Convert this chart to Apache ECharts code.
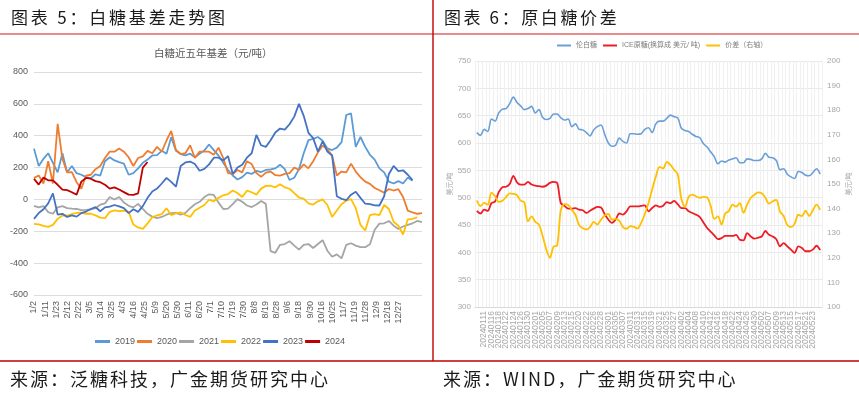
<!DOCTYPE html>
<html><head><meta charset="utf-8">
<script src="https://cdn.jsdelivr.net/npm/echarts@6/dist/echarts.min.js"></script>
<style>
html,body{margin:0;padding:0;background:#fff;}
#wrap{position:relative;width:859px;height:395px;overflow:hidden;background:#fff;}
#chart{position:absolute;left:0;top:0;width:859px;height:395px;}
.hd{position:absolute;font-family:"Noto Sans CJK SC",sans-serif;color:#1a1a1a;white-space:nowrap;line-height:1;z-index:5;}
</style></head><body>
<div id="wrap">
<div id="chart"></div>
<div class="hd" style="left:11px;top:8px;font-size:17px;letter-spacing:2.8px;">图表 5：白糖基差走势图</div>
<div class="hd" style="left:444px;top:8px;font-size:17px;letter-spacing:2.6px;">图表 6：原白糖价差</div>
<div class="hd" style="left:10px;top:369px;font-size:18px;letter-spacing:2px;">来源：泛糖科技，广金期货研究中心</div>
<div class="hd" style="left:443px;top:369px;font-size:18px;letter-spacing:2px;">来源：WIND，广金期货研究中心</div>
</div>
<script>
// ---------- Left chart: 白糖近五年基差 (元/吨) ----------
const leftDateLabels = ['1/2','1/11','1/23','2/12','2/22','3/5','3/14','3/25','4/3','4/16','4/25','5/9','5/20','5/30','6/11','6/20','7/1','7/10','7/19','7/30','8/8','8/19','8/28','9/6','9/18','9/30','10/16','10/25','11/7','11/19','11/28','12/9','12/18','12/27'];
const LABEL_EVERY = 7;   // one date label every 7 trading days
const DAY_STEP = 3;      // values below are read every 3rd trading day
const TOTAL_DAYS = 246;
const years = ['2019','2020','2021','2022','2023','2024'];
const basis2019 = [319,210,255,290,230,170,290,171,210,165,155,140,132,158,150,240,265,245,234,225,155,165,195,230,250,276,278,305,287,390,305,285,276,287,265,287,308,345,310,
  275,230,185,150,125,140,168,160,180,172,185,188,195,218,190,122,136,190,290,372,380,392,368,320,310,325,360,530,540,330,392,330,280,250,195,170,112,100,115,100,138,118];
const basis2020 = [135,150,100,240,100,475,255,170,171,108,68,150,155,190,210,260,300,300,320,300,265,210,260,270,305,290,330,300,370,430,310,285,290,340,260,300,300,300,280,
  325,260,165,160,185,170,240,222,165,142,168,175,152,150,160,165,200,185,220,195,240,295,338,315,275,150,175,170,225,175,139,112,98,72,58,42,65,56,64,15,-70,-82,-90,-86];
const basis2021 = [-40,-50,-42,-80,-90,-50,-42,-55,-58,-60,-67,-66,-62,-55,-33,-25,15,0,15,-20,-40,-50,-28,-60,-90,-108,-118,-110,-96,-86,
  -84,-95,-85,-55,-30,-15,15,32,28,-20,-60,-58,-30,2,-15,-38,-48,-32,-10,-28,-325,-335,-285,-280,-262,-290,-315,-285,-280,-305,
  -280,-256,-322,-360,-345,-370,-285,-275,-290,-300,-300,-282,-190,-152,-150,-135,-165,-185,-170,-160,-150,-135,-143];
const basis2022 = [-154,-156,-166,-172,-160,-122,-101,-101,-92,-84,-83,-90,-90,-100,-114,-118,-78,-69,-74,-70,-78,-158,-176,-185,-150,-112,-100,-92,-55,-98,
  -88,-82,-98,-110,-70,-52,-35,-2,-12,10,26,34,56,40,15,55,45,30,68,85,86,76,96,76,67,40,12,5,-25,-32,
  -12,0,-35,-110,-70,-30,-8,2,-55,-160,-195,-98,-92,-98,-35,-60,-140,-165,-220,-125,-122,-112];
const basis2023 = [-122,-85,-62,-25,38,-95,-90,-110,-100,-108,-86,-76,-60,-48,-74,-50,-45,-35,-44,-55,-86,-62,-78,-42,10,50,68,100,135,110,
  80,210,232,238,222,180,192,220,262,262,245,272,160,200,218,262,290,405,340,330,371,420,445,438,472,520,600,525,418,385,
  300,365,300,276,20,4,-5,30,48,10,-27,-30,-37,-38,20,160,210,178,183,155,122];
const basis2024 = [129,93,137,120,120,92,62,58,45,30,112,135,130,115,108,92,68,76,62,46,30,28,38,200,235];

// ---------- Right chart: 原白糖价差 ----------
const rightDates = ['20240109','20240110','20240111','20240112','20240116','20240117','20240118','20240119','20240122','20240123','20240124','20240125','20240126','20240129','20240130','20240131',
  '20240201','20240202','20240205','20240206','20240207','20240208','20240209','20240212','20240213','20240214','20240215','20240216','20240220','20240221','20240222','20240223','20240226','20240227','20240228','20240229',
  '20240301','20240304','20240305','20240306','20240307','20240308','20240311','20240312','20240313','20240314','20240315','20240318','20240319','20240320','20240321','20240322','20240325','20240326','20240327','20240328',
  '20240402','20240403','20240404','20240405','20240408','20240409','20240410','20240411','20240412','20240415','20240416','20240417','20240418','20240419','20240422','20240423','20240424','20240425','20240426','20240429','20240430',
  '20240501','20240502','20240503','20240507','20240508','20240509','20240510','20240513','20240514','20240515','20240516','20240517','20240520','20240521','20240522','20240523','20240524','20240528'];
const londonWhite = [619,614,625,621,644,640,655,662,663,672,684,674,668,661,663,667,655,661,647,643,645,653,653,646,642,644,630,635,625,624,619,613,624,630,633,616,600,594,596,609,603,600,617,617,616,617,625,
  628,619,635,640,640,645,651,648,646,627,623,621,616,612,610,599,593,584,575,562,567,565,569,571,573,564,564,571,570,568,568,571,581,574,573,568,551,553,543,538,535,548,546,541,540,546,553,543];
const iceRaw = [476,471,478,476,490,493,510,519,520,525,540,528,524,524,529,524,522,521,520,522,527,529,527,490,485,480,480,481,478,477,472,476,480,483,482,470,460,454,460,471,469,475,484,484,484,485,486,
  475,481,486,483,485,492,490,494,488,481,481,475,472,469,465,455,445,438,431,424,426,430,430,430,432,423,422,435,429,425,427,429,439,432,429,424,411,417,411,405,399,411,408,402,402,405,412,404];
const spread = [143.3,141,142.3,141.6,146.5,145,142.7,143.2,144.7,146.2,146,145.5,143.2,142.6,134.8,136.8,134.6,133.5,129,123.5,120,124.5,125,139.5,141.8,141.5,139.5,137.5,133.3,132,131.5,132.5,134.6,133.5,135.5,137.2,137.8,135.5,135.8,135,132.5,131.8,132.9,132.6,131.9,134.2,137.8,
  142.3,147.8,153,157,156.3,159,157.8,155.8,154,144,140.7,144.8,145.7,145,144.4,144.8,144.6,141.3,135.8,136.8,133.5,138,139,141.6,140.8,142.2,138.3,141.6,144.4,145.6,146.6,146.2,144.4,142,143,143.5,138.8,137,133.3,132.5,133.8,137.5,137,139.2,137,139.3,141.6,139.5];
const rightNames = ['伦白糖','ICE原糖(换算成 美元/ 吨)','价差（右轴）'];

const FONT = 'Arial, "Liberation Sans", "Noto Sans CJK SC", sans-serif';
const leftColors = ['#5B9BD5','#ED7D31','#A5A5A5','#FFC000','#4472C4','#C00000'];
const leftValues = [basis2019, basis2020, basis2021, basis2022, basis2023, basis2024];

const leftSeries = years.map((name, j) => ({
  name, type: 'line', xAxisIndex: 0, yAxisIndex: 0, symbol: 'none', showSymbol: false,
  lineStyle: {width: 1.8, color: leftColors[j]}, itemStyle: {color: leftColors[j]},
  data: leftValues[j].map((v, i) => [i * DAY_STEP, v])
}));
const rightSeries = [
  {name: rightNames[0], type: 'line', xAxisIndex: 1, yAxisIndex: 1, symbol: 'none', smooth: 0.3,
   lineStyle: {width: 1.6, color: '#6A9FD8'}, itemStyle: {color: '#6A9FD8'}, data: londonWhite},
  {name: rightNames[1], type: 'line', xAxisIndex: 1, yAxisIndex: 1, symbol: 'none', smooth: 0.3,
   lineStyle: {width: 1.8, color: '#EE1C25'}, itemStyle: {color: '#EE1C25'}, data: iceRaw},
  {name: rightNames[2], type: 'line', xAxisIndex: 1, yAxisIndex: 2, symbol: 'none', smooth: 0.3,
   lineStyle: {width: 1.8, color: '#FFC000'}, itemStyle: {color: '#FFC000'}, data: spread}
];

const chart = echarts.init(document.getElementById('chart'));
chart.setOption({
  animation: false,
  textStyle: {fontFamily: FONT},
  title: {text: '白糖近五年基差（元/吨）', left: 154, top: 49, padding: 0,
    textStyle: {fontSize: 10.5, fontWeight: 'normal', color: '#595959', fontFamily: FONT}},
  legend: [
    {data: years, left: 95, top: 337, padding: 0, icon: 'rect', itemWidth: 15, itemHeight: 3, itemGap: 2,
     textStyle: {fontSize: 9, color: '#595959'}},
    {data: rightNames, left: 557, top: 42, padding: 0, icon: 'rect', itemWidth: 14, itemHeight: 2, itemGap: 6,
     textStyle: {fontSize: 7, color: '#7f7f7f'}}
  ],
  grid: [
    {left: 34, top: 72, width: 388, height: 223},
    {left: 475, top: 61, width: 347, height: 246}
  ],
  xAxis: [
    {type: 'value', gridIndex: 0, min: 0, max: TOTAL_DAYS, interval: LABEL_EVERY,
     axisLine: {show: false, onZero: false}, axisTick: {show: false}, splitLine: {show: false},
     axisLabel: {rotate: 90, fontSize: 9, color: '#595959', margin: 6, showMaxLabel: true,
       formatter: v => (v % LABEL_EVERY === 0 ? (leftDateLabels[v / LABEL_EVERY] || '') : '')}},
    {type: 'category', gridIndex: 1, data: rightDates, boundaryGap: true,
     axisLine: {lineStyle: {color: '#d9d9d9'}}, axisTick: {show: false},
     splitLine: {show: true, interval: 0, lineStyle: {color: '#f0f0f0', width: 1}},
     axisLabel: {rotate: 90, interval: 1, fontSize: 8.5, color: '#a6a6a6', margin: 4}}
  ],
  yAxis: [
    {type: 'value', gridIndex: 0, min: -600, max: 800, interval: 200,
     axisLine: {show: false}, axisTick: {show: false},
     splitLine: {lineStyle: {color: '#dcdcdc'}},
     axisLabel: {fontSize: 9, color: '#595959', margin: 6}},
    {type: 'value', gridIndex: 1, position: 'left', min: 300, max: 750, interval: 50,
     name: '美元/吨', nameLocation: 'middle', nameGap: 20, nameTextStyle: {fontSize: 7, color: '#a6a6a6'},
     axisLine: {show: false}, axisTick: {show: false},
     splitLine: {lineStyle: {color: '#e8e8e8'}},
     axisLabel: {fontSize: 8, color: '#a6a6a6', margin: 4}},
    {type: 'value', gridIndex: 1, position: 'right', min: 100, max: 200, interval: 10,
     name: '美元/吨', nameLocation: 'middle', nameGap: 24, nameTextStyle: {fontSize: 7, color: '#a6a6a6'},
     axisLine: {show: false}, axisTick: {show: false}, splitLine: {show: false},
     axisLabel: {fontSize: 8, color: '#a6a6a6', margin: 5}}
  ],
  series: leftSeries.concat(rightSeries),
  graphic: [
    {type: 'line', silent: true, shape: {x1: 0, y1: 34, x2: 859, y2: 34}, style: {stroke: '#E06666', lineWidth: 1.6}},
    {type: 'line', silent: true, shape: {x1: 433, y1: 0, x2: 433, y2: 361}, style: {stroke: '#C00000', lineWidth: 1.4}},
    {type: 'line', silent: true, shape: {x1: 0, y1: 361, x2: 859, y2: 361}, style: {stroke: '#C00000', lineWidth: 1.4}}
  ]
});
</script>
</body></html>
